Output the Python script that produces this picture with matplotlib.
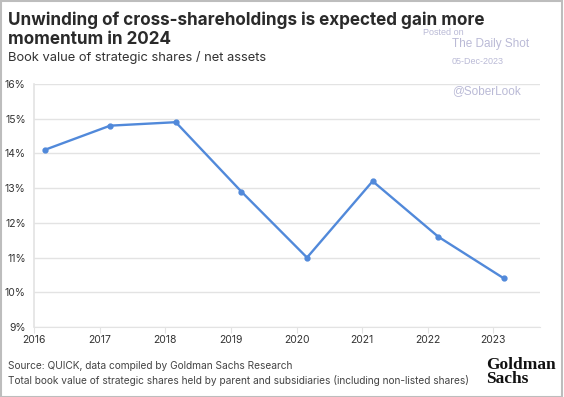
import matplotlib.pyplot as plt
from matplotlib.patches import Rectangle

# Data (fiscal year-end points, plotted slightly after each Jan 1)
years = [2016, 2017, 2018, 2019, 2020, 2021, 2022, 2023]
offset = 0.16
share_pct = [14.1, 14.8, 14.9, 12.9, 11.0, 13.2, 11.6, 10.4]
y_ticks = [9, 10, 11, 12, 13, 14, 15, 16]

plt.rcParams['font.family'] = ['Inter', 'DejaVu Sans']

fig = plt.figure(figsize=(5.64, 3.97), dpi=100)
fig.patch.set_facecolor('white')
ax = fig.add_axes([34 / 564, 1 - 327 / 397, (540 - 34) / 564, (327 - 84) / 397])

x = [yr + offset for yr in years]
ax.plot(x, share_pct, '-o', color='#5189DA', linewidth=1.7, markersize=3.5)

ax.set_xlim(2016, 2023.71)
ax.set_ylim(9, 16)
ax.set_yticks(y_ticks)
ax.set_yticklabels([f"{t}%" for t in y_ticks])
ax.set_xticks(years)
ax.set_xticklabels([str(yr) for yr in years])

ax.grid(True, axis='y', color='#E3E3E3', linewidth=1.0)
ax.set_axisbelow(True)
for s in ['top', 'right']:
    ax.spines[s].set_visible(False)
ax.spines['left'].set_color('#E3E3E3')
ax.spines['bottom'].set_color('#E3E3E3')
ax.spines['left'].set_linewidth(1.2)
ax.tick_params(axis='y', length=0, pad=6, labelsize=7.5, labelcolor='#333333')
ax.tick_params(axis='x', length=4, color='#E3E3E3', pad=1.5, labelsize=7.5, labelcolor='#333333')

# Titles
title_kw = dict(fontsize=12.3, fontweight='bold', color='#2A2A2A', va='center', ha='left')
fig.text(8 / 564, 1 - 20 / 397, "Unwinding of cross-shareholdings is expected gain more", **title_kw)
fig.text(8 / 564, 1 - 39 / 397, "momentum in 2024", **title_kw)
fig.text(8 / 564, 1 - 58 / 397, "Book value of strategic shares / net assets",
         fontsize=9.3, color='#333333', va='center', ha='left')

# Watermark
wm = dict(color='#BABAD6', va='center', ha='left', family=['Liberation Sans', 'DejaVu Sans'])
fig.text(423 / 564, 1 - 32.5 / 397, "Posted on", fontsize=6.5, **wm)
fig.text(452 / 564, 1 - 44 / 397, "The Daily Shot", fontsize=8.5, **wm)
fig.text(452 / 564, 1 - 61 / 397, "05-Dec-2023", fontsize=6.5, **wm)
fig.text(452 / 564, 1 - 91 / 397, "@SoberLook", fontsize=8.5, **wm)

# Footer
fig.text(8 / 564, 1 - 366 / 397, "Source: QUICK, data compiled by Goldman Sachs Research",
         fontsize=7.3, color='#444444', va='center', ha='left')
fig.text(8 / 564, 1 - 380 / 397,
         "Total book value of strategic shares held by parent and subsidiaries (including non-listed shares)",
         fontsize=7.3, color='#444444', va='center', ha='left')
fig.text(486 / 564, 1 - 372 / 397, "Goldman\nSachs", fontsize=12.5, fontweight='bold', color='#111111',
         va='center', ha='left', linespacing=0.78, family=['Liberation Serif', 'DejaVu Serif'])

# Outer frame
fig.patches.append(Rectangle((0.001, 0.001), 0.996, 0.996, transform=fig.transFigure,
                             fill=False, edgecolor='#BDBDBD', linewidth=1.5))

fig.savefig('out.png', dpi=100)
